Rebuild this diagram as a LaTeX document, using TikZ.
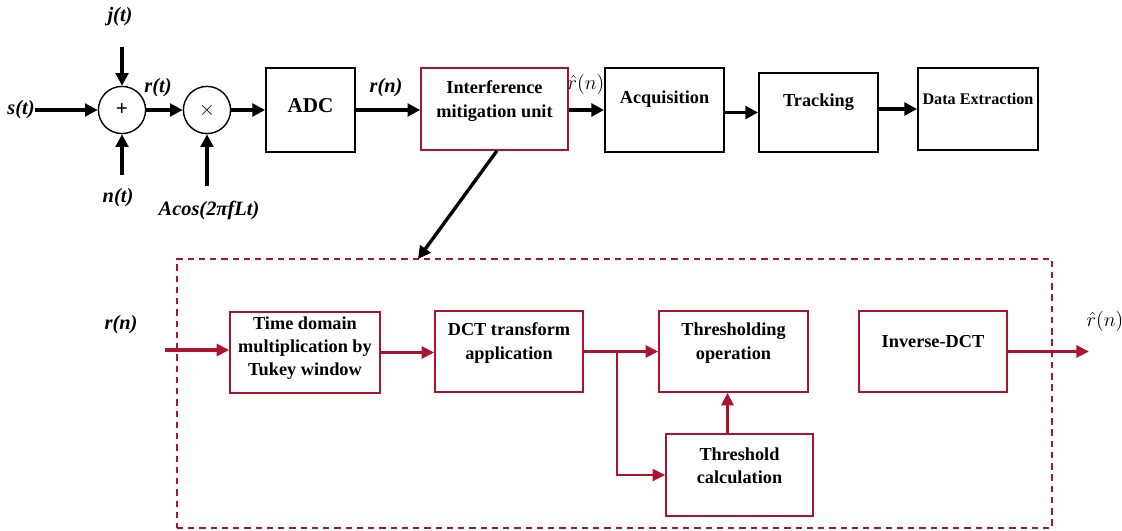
\documentclass[tikz,border=0pt]{standalone}
\usepackage{fontspec}
\setmainfont{Liberation Serif}
\usetikzlibrary{arrows.meta}
\definecolor{mitred}{RGB}{172,20,46}

\begin{document}
\begin{tikzpicture}[x=0.025cm,y=0.025cm]
\tikzstyle{every node}+=[inner sep=0pt]
\tikzstyle{blk}=[draw=black, line width=1.3pt, rectangle]
\tikzstyle{rblk}=[draw=mitred, line width=1.1pt, rectangle]
\tikzstyle{txt}=[align=center, font=\fontsize{13}{16.5}\selectfont\bfseries]
\tikzstyle{sig}=[font=\fontsize{14.5}{17}\selectfont\bfseries\itshape]
\tikzstyle{hsig}=[font=\fontsize{14}{17}\selectfont]
\tikzstyle{op}=[draw=black, line width=1pt, circle, minimum size=1.18cm]
\tikzstyle{arr}=[-{Triangle[length=9pt,width=9pt]}, line width=2.4pt, black]
\tikzstyle{rarr}=[-{Triangle[length=9pt,width=8.5pt]}, line width=2.3pt, mitred]
\useasboundingbox (0,0) rectangle (1122,-531);
\node [op] (sum) at (122,-110) {\fontsize{15}{15}\selectfont\bfseries +};
\node [op] (mul) at (207,-110) {\fontsize{14}{14}\selectfont $\times$};
\node [sig] (st) at (21,-110) {s(t)};
\node [sig] (jt) at (120,-17) {j(t)};
\node [sig] (nt) at (118,-198) {n(t)};
\node [sig] (rt) at (158,-88) {r(t)};
\node [sig] (ac) at (209,-210) {Acos(2πfLt)};
\coordinate (jin) at (122,-47);
\coordinate (nin) at (122,-175);
\coordinate (ain) at (207,-186);
\node [blk, minimum width=2.225cm, minimum height=2.1cm] (adc) at (310.5,-110) {};
\node [txt, font=\fontsize{15}{17}\selectfont\bfseries] (adct) at (310.5,-106) {ADC};
\node [sig] (rn) at (386,-88) {r(n)};
\node [rblk, minimum width=3.675cm, minimum height=2.05cm] (imu) at (494.5,-109) {};
\node [txt] (imut) at (494.5,-101) {Interference\\mitigation unit};
\node [hsig] (rhat) at (586,-84) {$\hat{r}(n)$};
\node [blk, minimum width=2.975cm, minimum height=2.1cm] (acq) at (664.5,-110) {};
\node [txt] (acqt) at (664.5,-99) {Acquisition};
\node [blk, minimum width=2.975cm, minimum height=1.975cm] (trk) at (818.5,-112.5) {};
\node [txt] (trkt) at (818.5,-102) {Tracking};
\node [blk, minimum width=3cm, minimum height=2.05cm] (dat) at (978,-109) {};
\node [txt, font=\fontsize{11.5}{13}\selectfont\bfseries] (datt) at (978,-99) {Data Extraction};
\draw [arr] (st) -- (sum);
\draw [arr] (jin) -- (sum);
\draw [arr] (nin) -- (sum);
\draw [arr] (sum) -- (mul);
\draw [arr] (ain) -- (mul);
\draw [arr] (mul) -- (adc);
\draw [arr] (adc) -- (adc -| imu.west);
\draw [arr] (imu.east |- acq.west) -- (acq.west);
\draw [arr] (acq.east |- trk.west) -- (trk.west);
\draw [arr] (trk.east |- dat.west) -- (dat.west);
\node [draw=mitred, line width=1.2pt, dash pattern=on 4.5pt off 3.5pt, minimum width=21.875cm, minimum height=6.725cm] (imb) at (614.5,-393.5) {};
\coordinate (dtip) at (418,-259);
\draw [arr] ([xshift=0.06cm]imu.south) -- (dtip);
\node [sig] (rn2) at (121,-325) {r(n)};
\coordinate (rin) at (165,-350);
\node [rblk, minimum width=3.75cm, minimum height=2.025cm] (tuk) at (305,-352.5) {};
\node [txt] (tukt) at (305,-348) {Time domain\\multiplication by\\Tukey window};
\node [rblk, minimum width=3.7cm, minimum height=2.025cm] (dct) at (509,-351.5) {};
\node [txt] (dctt) at (509,-343) {DCT transform\\application};
\node [rblk, minimum width=3.725cm, minimum height=2.025cm] (thr) at (733.5,-351.5) {};
\node [txt] (thrt) at (733.5,-343) {Thresholding\\operation};
\node [rblk, minimum width=3.7cm, minimum height=2.025cm] (inv) at (933,-351.5) {};
\node [txt] (invt) at (933,-342) {Inverse-DCT};
\node [rblk, minimum width=3.675cm, minimum height=2.05cm] (thc) at (739.5,-475) {};
\node [txt] (thct) at (739.5,-466) {Threshold\\calculation};
\node [hsig] (rhat2) at (1105,-321) {$\hat{r}(n)$};
\coordinate (br) at (617,-351.5);
\coordinate (rout) at (1089,-351.5);
\draw [rarr] (rin) -- (rin -| tuk.west);
\draw [rarr] (tuk) -- (tuk -| dct.west);
\draw [rarr] (dct) -- (thr);
\draw [rarr, line width=1.8pt] (br) |- (thc.west);
\draw [rarr] ([xshift=-0.3cm]thc.north) -- ([xshift=-0.3cm]thc.north |- thr.south);
\draw [rarr] (inv) -- (rout);
\end{tikzpicture}
\end{document}
